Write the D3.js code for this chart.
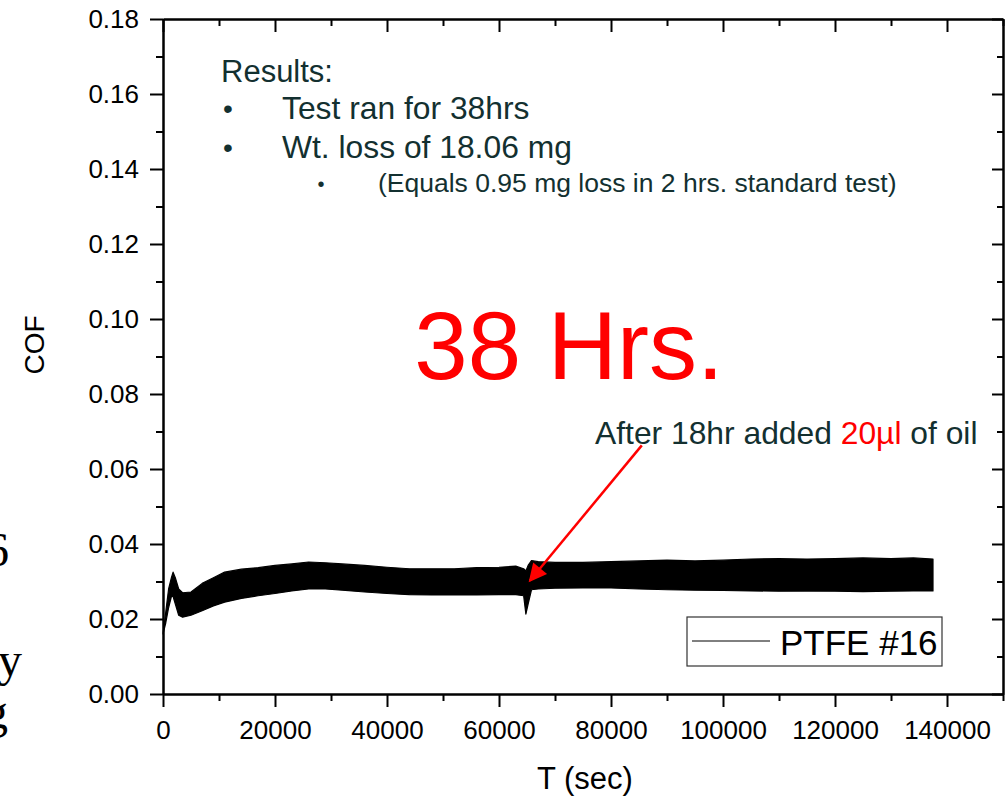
<!DOCTYPE html>
<html>
<head>
<meta charset="utf-8">
<script src="https://cdn.jsdelivr.net/npm/d3@7"></script>
<style>
  body { margin: 0; background: #fff; }
  svg { display: block; font-family: "Liberation Sans", Arial, sans-serif; }
</style>
</head>
<body>
<svg></svg>
<script>
// readings: time (s), top and bottom of the noisy COF band
const timeSec = [0, 500, 1000, 1500, 1800, 2200, 2800, 3500, 5000, 7000, 9000, 11000, 14000, 17000, 20000,
  23000, 26000, 29000, 32000, 36000, 40000, 44000, 48000, 52000, 56000, 60000, 63000, 64400, 64800, 65200,
  65800, 67000, 70000, 75000, 80000, 85000, 90000, 95000, 100000, 105000, 110000, 115000, 120000, 125000,
  130000, 134000, 137500];
const cofHigh = [0.016, 0.022, 0.028, 0.031, 0.0325, 0.031, 0.028, 0.027, 0.0272, 0.0295, 0.031, 0.0325,
  0.0333, 0.0337, 0.0343, 0.0347, 0.0352, 0.035, 0.0347, 0.0343, 0.0338, 0.0334, 0.0334, 0.0334, 0.0337,
  0.0338, 0.0341, 0.0334, 0.0328, 0.0343, 0.0356, 0.0353, 0.0351, 0.0351, 0.0353, 0.0355, 0.0357, 0.0355,
  0.0357, 0.036, 0.0361, 0.036, 0.0361, 0.0363, 0.0361, 0.0363, 0.036];
const cofLow = [0.016, 0.019, 0.023, 0.026, 0.026, 0.024, 0.021, 0.0205, 0.021, 0.0222, 0.0235, 0.0245,
  0.0255, 0.0262, 0.0268, 0.0275, 0.028, 0.028, 0.0277, 0.0272, 0.0268, 0.0265, 0.0264, 0.0264, 0.0264,
  0.0265, 0.0265, 0.0262, 0.0213, 0.024, 0.0278, 0.028, 0.0282, 0.0283, 0.0283, 0.028, 0.0278, 0.0277,
  0.0276, 0.0275, 0.0274, 0.0275, 0.0274, 0.0273, 0.0274, 0.0275, 0.0275];

const xMajorTicks = [0, 20000, 40000, 60000, 80000, 100000, 120000, 140000];
const xMinorTicks = [10000, 30000, 50000, 70000, 90000, 110000, 130000, 150000];
const yMajorTicks = [0, 0.02, 0.04, 0.06, 0.08, 0.1, 0.12, 0.14, 0.16, 0.18];
const yMinorTicks = [0.01, 0.03, 0.05, 0.07, 0.09, 0.11, 0.13, 0.15, 0.17];

const seriesName = "PTFE #16";
const resultLines = ["Test ran for 38hrs", "Wt. loss of 18.06 mg"];
const subResult = "(Equals 0.95 mg loss in 2 hrs. standard test)";
const arrowFrom = { t: 85500, cof: 0.0663 };
const arrowTo = { t: 65500, cof: 0.0302 };

const layout = {
  width: 1007,
  height: 799,
  margin: { left: 163, right: 4, top: 19, bottom: 105 },
  ink: "#133030",
};

const { width, height, margin } = layout;
const innerWidth = width - margin.left - margin.right;
const innerHeight = height - margin.top - margin.bottom;

const svg = d3.select("svg").attr("width", width).attr("height", height);
const plot = svg.append("g").attr("transform", `translate(${margin.left}, ${margin.top})`);

const xScale = d3.scaleLinear().domain([0, 150000]).range([0, innerWidth]);
const yScale = d3.scaleLinear().domain([0, 0.18]).range([innerHeight, 0]);

const rows = timeSec.map((t, i) => ({ t, hi: cofHigh[i], lo: cofLow[i] }));

// draw DATA band
plot
  .append("path")
  .datum(rows)
  .attr("fill", "#000")
  .attr("stroke", "#000")
  .attr("stroke-width", 1.2)
  .attr("stroke-linejoin", "round")
  .attr(
    "d",
    d3
      .area()
      .x((d) => xScale(d.t))
      .y0((d) => yScale(d.lo))
      .y1((d) => yScale(d.hi))
  );

// AXES: major + minor, left/bottom outward, top/right inward
function styleAxis(g) {
  g.selectAll("path").attr("stroke", "#000").attr("stroke-width", 2);
  g.selectAll("line").attr("stroke", "#000").attr("stroke-width", 2);
  g.selectAll("text").attr("fill", "#000").style("font-size", "26px");
}
function minorOnly(g) {
  styleAxis(g);
  g.selectAll("text").remove();
}

plot
  .append("g")
  .attr("transform", `translate(0, ${innerHeight})`)
  .call(d3.axisBottom(xScale).tickValues(xMajorTicks).tickSize(13).tickSizeOuter(0).tickPadding(14).tickFormat(d3.format("d")))
  .call(styleAxis);
plot
  .append("g")
  .attr("transform", `translate(0, ${innerHeight})`)
  .call(d3.axisBottom(xScale).tickValues(xMinorTicks).tickSize(7).tickSizeOuter(0))
  .call(minorOnly);
plot
  .append("g")
  .call(d3.axisTop(xScale).tickValues(xMajorTicks).tickSize(-13).tickSizeOuter(0))
  .call(minorOnly);
plot
  .append("g")
  .call(d3.axisTop(xScale).tickValues(xMinorTicks).tickSize(-7).tickSizeOuter(0))
  .call(minorOnly);

plot
  .append("g")
  .call(d3.axisLeft(yScale).tickValues(yMajorTicks).tickSize(13).tickSizeOuter(0).tickPadding(11).tickFormat(d3.format(".2f")))
  .call(styleAxis);
plot
  .append("g")
  .call(d3.axisLeft(yScale).tickValues(yMinorTicks).tickSize(7).tickSizeOuter(0))
  .call(minorOnly);
plot
  .append("g")
  .attr("transform", `translate(${innerWidth}, 0)`)
  .call(d3.axisRight(yScale).tickValues(yMajorTicks).tickSize(-11).tickSizeOuter(0))
  .call(minorOnly);
plot
  .append("g")
  .attr("transform", `translate(${innerWidth}, 0)`)
  .call(d3.axisRight(yScale).tickValues(yMinorTicks).tickSize(-6).tickSizeOuter(0))
  .call(minorOnly);

// axis LABELS
svg
  .append("text")
  .attr("text-anchor", "middle")
  .attr("x", 585)
  .attr("y", 789)
  .style("font-size", "31px")
  .text("T (sec)");
svg
  .append("text")
  .attr("text-anchor", "middle")
  .attr("transform", `translate(44, 345) rotate(-90)`)
  .style("font-size", "28px")
  .text("COF");

// RESULTS block
const notes = svg.append("g").attr("fill", layout.ink);
notes.append("text").attr("x", 221).attr("y", 82).style("font-size", "31px").text("Results:");
resultLines.forEach((line, i) => {
  notes.append("text").attr("x", 228).attr("y", 118 + i * 39).attr("text-anchor", "middle").style("font-size", "28px").text("•");
  notes.append("text").attr("x", 282).attr("y", 119 + i * 39).style("font-size", "31.8px").text(line);
});
notes.append("text").attr("x", 321).attr("y", 191).attr("text-anchor", "middle").style("font-size", "20px").text("•");
notes.append("text").attr("x", 378).attr("y", 192).style("font-size", "26.5px").text(subResult);

// big red label
plot
  .append("text")
  .attr("x", xScale(72500))
  .attr("y", yScale(0.0839))
  .attr("text-anchor", "middle")
  .attr("fill", "#ff0000")
  .style("font-size", "96px")
  .text("38 Hrs.");

// oil note + arrow
const oil = plot
  .append("text")
  .attr("x", 432)
  .attr("y", yScale(0.0666))
  .attr("fill", layout.ink)
  .style("font-size", "31.8px");
oil.append("tspan").text("After 18hr added ");
oil.append("tspan").attr("fill", "#ff0000").text("20µl");
oil.append("tspan").text(" of oil");

svg
  .append("defs")
  .append("marker")
  .attr("id", "head")
  .attr("viewBox", "0 0 10 10")
  .attr("refX", 9)
  .attr("refY", 5)
  .attr("markerUnits", "userSpaceOnUse")
  .attr("orient", "auto")
  .attr("markerWidth", 26)
  .attr("markerHeight", 18)
  .append("path")
  .attr("d", "M0,0 L10,5 L0,10 Z")
  .attr("fill", "#ff0000");

plot
  .append("line")
  .attr("x1", xScale(arrowFrom.t))
  .attr("y1", yScale(arrowFrom.cof))
  .attr("x2", xScale(arrowTo.t))
  .attr("y2", yScale(arrowTo.cof))
  .attr("stroke", "#ff0000")
  .attr("stroke-width", 2.5)
  .attr("marker-end", "url(#head)");

// LEGEND
const legend = svg.append("g").attr("transform", "translate(687, 617)");
legend.append("rect").attr("width", 255).attr("height", 49).attr("fill", "#fff").attr("stroke", "#333").attr("stroke-width", 1.2);
legend.append("line").attr("x1", 5).attr("x2", 83).attr("y1", 24).attr("y2", 24).attr("stroke", "#000").attr("stroke-width", 1);
legend.append("text").attr("x", 93).attr("y", 38).style("font-size", "35px").text(seriesName);

// bits of slide text cut off at the edges
const edge = svg.append("g").attr("fill", "#000").style("font-family", "'Liberation Serif', serif").style("font-size", "48px");
edge.append("text").attr("x", 9).attr("y", 566).attr("text-anchor", "end").text("6");
edge.append("text").attr("x", 22).attr("y", 676).attr("text-anchor", "end").text("y");
edge.append("text").attr("x", 8).attr("y", 728).attr("text-anchor", "end").text("g");
</script>
</body>
</html>
